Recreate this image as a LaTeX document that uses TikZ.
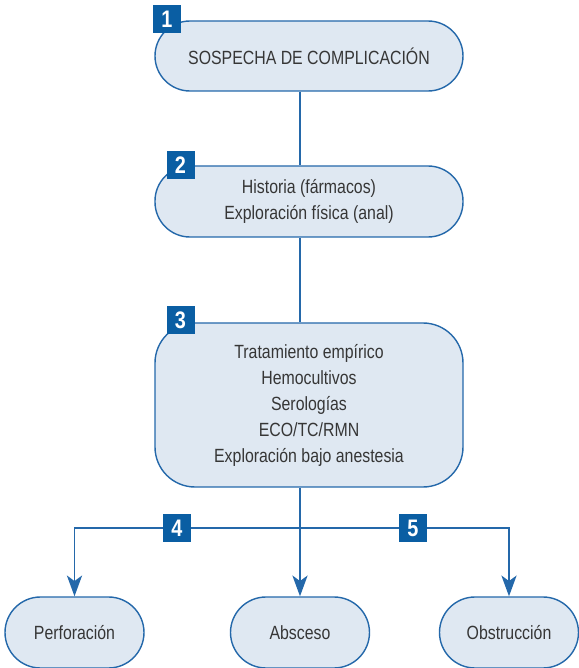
\documentclass[tikz,border=0pt]{standalone}
\usepackage{fontspec}
\newfontfamily\flfont{Liberation Sans}[FakeStretch=0.83]
\usepackage{xcolor}
\definecolor{flink}{HTML}{363636}
\definecolor{flblue}{HTML}{2468AA}
\definecolor{fltagblue}{HTML}{0A5EA3}
\definecolor{flfill}{HTML}{DFE8F2}
\usetikzlibrary{arrows.meta}
\tikzset{
  flbox/.style  ={rectangle, draw=flblue, fill=flfill, line width=1pt,
                  minimum width=7.7cm, align=center,
                  font=\flfont\fontsize{13.6}{18.5}\selectfont, text=flink},
  flpill/.style ={flbox, minimum height=1.75cm, rounded corners=0.875cm},
  flend/.style  ={flbox, minimum width=3.475cm, minimum height=1.775cm,
                  rounded corners=0.8875cm},
  fltag/.style  ={rectangle, fill=fltagblue, minimum width=0.7cm,
                  minimum height=0.72cm, inner sep=0pt,
                  font=\flfont\bfseries\fontsize{17}{17}\selectfont, text=white},
  flline/.style ={draw=flblue, line width=1.2pt},
  flarrow/.style={flline, -{Stealth[length=0.52cm,width=0.38cm,inset=0.14cm]}},
}
\begin{document}
\begin{tikzpicture}
  \useasboundingbox (0,0) rectangle (14.475,16.7);
  \node[flpill] (complic) at (7.725,15.3) {SOSPECHA DE COMPLICACIÓN};
  \node[flpill, minimum height=1.775cm] (hist) at (7.725,11.6625)
       {Historia (fármacos)\\Exploración física (anal)};
  \node[flbox, minimum height=4.1cm, rounded corners=1cm] (trat) at (7.725,6.575)
       {Tratamiento empírico\\Hemocultivos\\Serologías\\ECO/TC/RMN\\Exploración bajo anestesia};
  \node[flend] (perf) at (1.8625,0.8875) {Perforación};
  \node[flend] (absc) at (7.5,0.8875) {Absceso};
  \node[flend] (obst) at (12.725,0.8875) {Obstrucción};
  \coordinate (split) at (7.5,3.5);
  % connectors
  \draw[flline] (complic.south -| absc.north) -- (hist.north -| absc.north);
  \draw[flline] (hist.south -| absc.north) -- (trat.north -| absc.north);
  \draw[flarrow] (trat.south -| absc.north) -- (absc.north);
  \draw[flarrow] (split) -| (perf.north);
  \draw[flarrow] (split) -| (obst.north);
  % numbered tags
  \node[fltag] (t1) at (4.175,16.225) {1};
  \node[fltag] (t2) at (4.5125,12.575) {2};
  \node[fltag] (t3) at (4.5125,8.7) {3};
  \node[fltag] (t4) at (4.425,3.5) {4};
  \node[fltag] (t5) at (10.325,3.5) {5};
\end{tikzpicture}
\end{document}
